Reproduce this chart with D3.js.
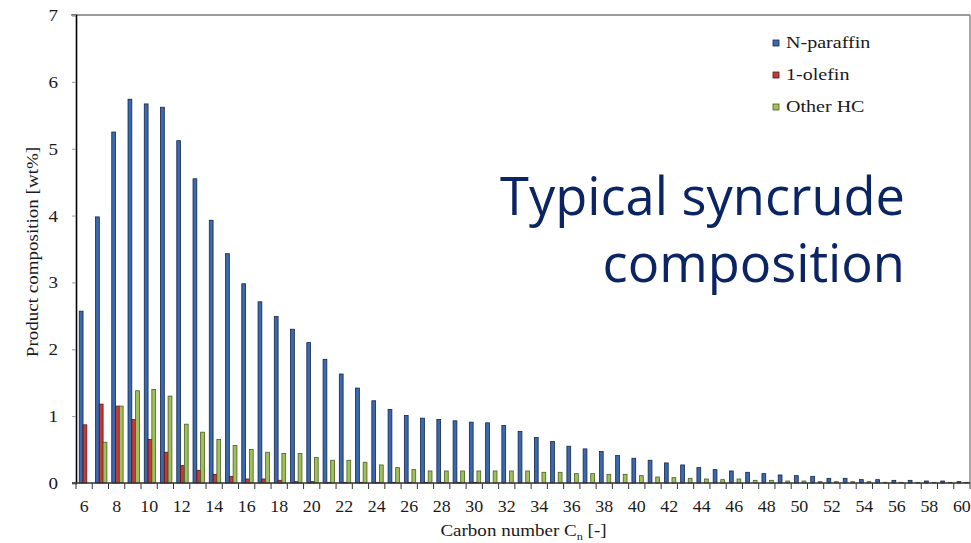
<!DOCTYPE html>
<html>
<head>
<meta charset="utf-8">
<script src="https://cdn.jsdelivr.net/npm/d3@7"></script>
<style>
  html, body { margin: 0; padding: 0; background: #fff; }
  #chart { width: 971px; height: 543px; }
</style>
</head>
<body>
<div id="chart"></div>
<script>
/* ---------- Data ---------- */
const carbonNumbers = d3.range(6, 61);   // C6 ... C60
const seriesNames = ["N-paraffin", "1-olefin", "Other HC"];

const nParaffin = [
  2.57, 3.98, 5.25, 5.74, 5.67, 5.62, 5.12, 4.55, 3.93, 3.43,
  2.98, 2.71, 2.49, 2.30, 2.10, 1.85, 1.63, 1.42, 1.23, 1.10,
  1.01, 0.97, 0.95, 0.93, 0.91, 0.90, 0.86, 0.77, 0.68, 0.62,
  0.55, 0.51, 0.47, 0.41, 0.37, 0.34, 0.30, 0.27, 0.23, 0.20,
  0.18, 0.16, 0.14, 0.12, 0.11, 0.10, 0.07, 0.07, 0.05, 0.05,
  0.04, 0.04, 0.03, 0.03, 0.02
];
const olefin1 = [
  0.87, 1.18, 1.15, 0.95, 0.65, 0.46, 0.26, 0.19, 0.13, 0.10,
  0.06, 0.06, 0.04, 0.02, 0.02, 0.01, 0.01, 0.01, 0.01, 0.01,
  0.01, 0.01, 0.01, 0.01, 0.01, 0, 0, 0, 0, 0,
  0, 0, 0, 0, 0, 0, 0, 0, 0, 0,
  0, 0, 0, 0, 0, 0, 0, 0, 0, 0,
  0, 0, 0, 0, 0
];
const otherHC = [
  0.00, 0.61, 1.15, 1.38, 1.40, 1.30, 0.88, 0.76, 0.65, 0.56,
  0.50, 0.46, 0.44, 0.44, 0.38, 0.34, 0.34, 0.31, 0.27, 0.23,
  0.20, 0.18, 0.18, 0.18, 0.18, 0.18, 0.18, 0.18, 0.16, 0.16,
  0.14, 0.14, 0.13, 0.13, 0.11, 0.09, 0.08, 0.07, 0.06, 0.05,
  0.06, 0.04, 0.04, 0.03, 0.03, 0.02, 0.02, 0.02, 0.02, 0.01,
  0.01, 0.01, 0.01, 0.01, 0.01
];
const yTicks = [0, 1, 2, 3, 4, 5, 6, 7];
const xLabelTicks = carbonNumbers.filter(d => d % 2 === 0);

const yLabel = "Product composition [wt%]";
const xLabel = "Carbon number C";
const overlayLines = ["Typical syncrude", "composition"];

/* ---------- Chart ---------- */
function drawSyncrudeChart() {
  const width = 971, height = 543;
  const margin = { top: 15, right: 1, bottom: 60, left: 76 };
  const innerW = width - margin.left - margin.right;
  const innerH = height - margin.top - margin.bottom;

  const colors = { "N-paraffin": "#3a69b0", "1-olefin": "#c23c37", "Other HC": "#9fc05a" };
  const strokes = { "N-paraffin": "#142648", "1-olefin": "#5a1513", "Other HC": "#4a5e22" };
  const serif = "'Liberation Serif', 'DejaVu Serif', serif";
  const stretch = 1.12; // reference serif text runs a bit wider than Liberation Serif
  const ink = "#1a1a1a";

  const svg = d3.select("#chart").append("svg")
    .attr("width", width)
    .attr("height", height)
    .attr("viewBox", `0 0 ${width} ${height}`);

  const g = svg.append("g").attr("transform", `translate(${margin.left},${margin.top})`);

  const x0 = d3.scaleBand()
    .domain(carbonNumbers)
    .range([0, innerW])
    .padding(0);

  const x1 = d3.scaleBand()
    .domain(seriesNames)
    .range([x0.bandwidth() * 0.2, x0.bandwidth() * 0.9])
    .padding(0);

  const y = d3.scaleLinear()
    .domain([0, 7])
    .range([innerH, 0]);

  // Frame (top + right, gray)
  g.append("line")
    .attr("x1", -5).attr("x2", innerW)
    .attr("y1", 0).attr("y2", 0)
    .attr("stroke", "#7a7a7a").attr("stroke-width", 1.5);
  g.append("line")
    .attr("x1", innerW).attr("x2", innerW)
    .attr("y1", 0).attr("y2", innerH)
    .attr("stroke", "#8a8a8a").attr("stroke-width", 1.5);

  // Bars
  const table = carbonNumbers.map((c, i) => ({
    c: c,
    vals: [
      { key: "N-paraffin", value: nParaffin[i] },
      { key: "1-olefin", value: olefin1[i] },
      { key: "Other HC", value: otherHC[i] }
    ]
  }));

  const groups = g.selectAll(".cgroup")
    .data(table)
    .enter().append("g")
    .attr("transform", d => `translate(${x0(d.c)},0)`);

  groups.selectAll("rect")
    .data(d => d.vals.filter(v => v.value > 0))
    .enter().append("rect")
    .attr("x", d => x1(d.key))
    .attr("y", d => y(d.value))
    .attr("width", x1.bandwidth())
    .attr("height", d => innerH - y(d.value))
    .attr("fill", d => colors[d.key])
    .attr("stroke", d => strokes[d.key])
    .attr("stroke-width", 0.8);

  // Y axis
  const yAxis = g.append("g")
    .call(d3.axisLeft(y).tickValues(yTicks).tickSize(4).tickPadding(0).tickFormat(d3.format("d")));
  yAxis.select(".domain").attr("stroke", "#000").attr("stroke-width", 1.6);
  yAxis.selectAll(".tick line").attr("stroke", "#999");
  yAxis.selectAll("text")
    .attr("x", -16)
    .attr("transform", `scale(${stretch},1)`)
    .style("font-family", serif)
    .style("font-size", "17px")
    .style("fill", ink);

  // X axis: ticks at band boundaries, labels at every even carbon number
  const xAxis = g.append("g").attr("transform", `translate(0,${innerH})`);
  xAxis.append("line")
    .attr("x1", -4).attr("x2", innerW)
    .attr("stroke", "#333").attr("stroke-width", 1.4);
  xAxis.selectAll(".bound")
    .data(carbonNumbers.concat(["end"]))
    .enter().append("line")
    .attr("x1", d => d === "end" ? innerW : x0(d))
    .attr("x2", d => d === "end" ? innerW : x0(d))
    .attr("y1", 0).attr("y2", 6)
    .attr("stroke", "#333").attr("stroke-width", 1);
  xAxis.selectAll(".xlab")
    .data(xLabelTicks)
    .enter().append("text")
    .attr("transform", d => `translate(${x0(d) + x0.bandwidth() / 2},29) scale(${stretch},1)`)
    .attr("text-anchor", "middle")
    .text(d => d)
    .style("font-family", serif)
    .style("font-size", "16px")
    .style("fill", ink);

  // Axis titles
  const xt = g.append("text")
    .attr("transform", `translate(${(437 + 610) / 2 - margin.left},${innerH + 53}) scale(${stretch},1)`)
    .attr("text-anchor", "middle")
    .style("font-family", serif)
    .style("font-size", "17px")
    .style("fill", ink);
  xt.append("tspan").text(xLabel);
  xt.append("tspan").attr("dy", 4).style("font-size", "11px").text("n");
  xt.append("tspan").attr("dy", -4).text(" [-]");

  svg.append("text")
    .attr("transform", `translate(38,${252}) rotate(-90) scale(${stretch},1)`)
    .attr("text-anchor", "middle")
    .text(yLabel)
    .style("font-family", serif)
    .style("font-size", "17px")
    .style("fill", ink);

  // Legend
  const legend = svg.append("g").attr("transform", "translate(773,36)");
  const items = legend.selectAll(".legend-item")
    .data(seriesNames)
    .enter().append("g")
    .attr("transform", (d, i) => `translate(0,${i * 32})`);
  items.append("rect")
    .attr("width", 6).attr("height", 6)
    .attr("y", 4)
    .attr("fill", d => colors[d])
    .attr("stroke", d => strokes[d])
    .attr("stroke-width", 0.8);
  items.append("text")
    .attr("transform", `translate(13,12) scale(${stretch + 0.06},1)`)
    .text(d => d)
    .style("font-family", serif)
    .style("font-size", "17px")
    .style("fill", ink);

  // Overlay title
  const title = svg.append("g");
  const t1 = title.append("text")
    .attr("x", 905).attr("y", 215)
    .attr("text-anchor", "end")
    .text(overlayLines[0])
    .style("font-family", "'Open Sans', 'Noto Sans', sans-serif")
    .style("font-size", "100px")
    .style("fill", "#0b2464");
  const fs = 100 * 405 / t1.node().getComputedTextLength();
  t1.style("font-size", fs + "px");
  title.append("text")
    .attr("x", 905).attr("y", 282)
    .attr("text-anchor", "end")
    .text(overlayLines[1])
    .style("font-family", "'Open Sans', 'Noto Sans', sans-serif")
    .style("font-size", fs + "px")
    .style("fill", "#0b2464");
}

drawSyncrudeChart();
</script>
</body>
</html>
